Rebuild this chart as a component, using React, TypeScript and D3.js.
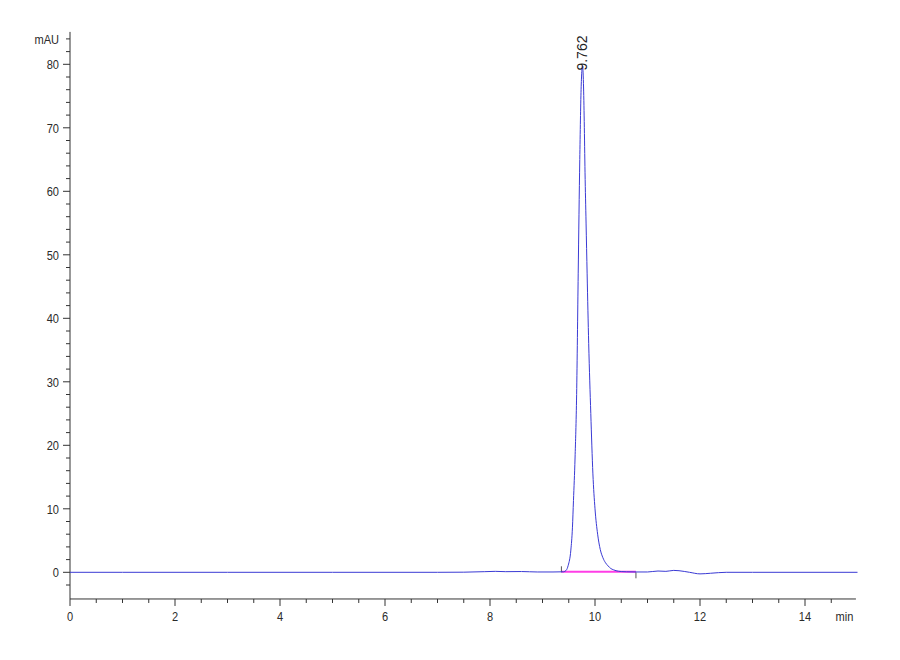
import React from "react";
import * as d3 from "d3";

// Chromatogram trace: retention time (min) and absorbance (mAU)
const times: number[] = [
  0, 1, 2, 3, 4, 5, 6, 7, 7.5, 7.9, 8.1, 8.3, 8.6, 8.9, 9.2, 9.4, 9.45, 9.49, 9.54, 9.57,
  9.59, 9.62, 9.65, 9.68, 9.71, 9.735, 9.762, 9.78, 9.795, 9.81, 9.83, 9.85, 9.88, 9.92,
  9.96, 10.0, 10.05, 10.1, 10.15, 10.2, 10.25, 10.3, 10.35, 10.4, 10.5, 10.6, 10.8, 11.0,
  11.2, 11.35, 11.5, 11.6, 11.8, 12.0, 12.2, 12.5, 13, 14, 15,
];
const signal: number[] = [
  0, 0, 0, 0, 0, 0, 0, 0, 0.02, 0.1, 0.15, 0.1, 0.12, 0.05, 0.05, 0.08, 0.3, 1.1, 3.5, 7,
  11.3, 18, 28, 47, 65, 76, 79.8, 77, 71, 63, 55, 47, 36, 25, 15.5, 10, 6, 3.6, 2.3, 1.5,
  1.0, 0.6, 0.4, 0.25, 0.12, 0.08, 0.05, 0.05, 0.2, 0.15, 0.3, 0.25, 0.0, -0.25, -0.15, 0,
  0, 0, 0,
];

const peakLabels: string[] = ["9.762"];
const peakTimes: number[] = [9.762];
const peakHeights: number[] = [79.8];
const integStart: number[] = [9.36];
const integEnd: number[] = [10.78];

const xMajorTicks: number[] = [0, 2, 4, 6, 8, 10, 12, 14];
const yMajorTicks: number[] = [0, 10, 20, 30, 40, 50, 60, 70, 80];
const xUnit = "min";
const yUnit = "mAU";

const W = 900;
const H = 660;

function CText({
  x,
  y,
  anchor,
  children,
  size = 13.5,
}: {
  x: number;
  y: number;
  anchor: "start" | "middle" | "end";
  children: React.ReactNode;
  size?: number;
}) {
  return (
    <g transform={`translate(${x},${y}) scale(0.82,1)`}>
      <text
        x={0}
        y={0}
        textAnchor={anchor}
        fontSize={size}
        fontFamily="'Liberation Sans', Arial, sans-serif"
        fill="#2a2a2a"
      >
        {children}
      </text>
    </g>
  );
}

export default function App() {
  const x = d3.scaleLinear().domain([0, 15]).range([70, 857.5]);
  const y = d3.scaleLinear().domain([0, 80]).range([572.3, 64.3]);

  const xMin = 0;
  const xMax = 14.97;
  const yMin = -4.2;
  const yMax = 85.1;

  const xMinor = d3.range(0, 15, 0.5).filter((v) => !xMajorTicks.includes(v));
  const yMinor = d3.range(-2, 85, 2).filter((v) => !yMajorTicks.includes(v));

  const pts: [number, number][] = times.map((t, i) => [t, signal[i]]);
  const line = d3
    .line<[number, number]>()
    .x((d) => x(d[0]))
    .y((d) => y(d[1]))
    .curve(d3.curveMonotoneX);

  const axisColor = "#333";
  const x0 = x(xMin);
  const yAxisY = y(yMin);

  return (
    <svg
      width={W}
      height={H}
      style={{ position: "absolute", left: 0, top: 0, background: "#fff" }}
    >
      <rect x={0} y={0} width={W} height={H} fill="#fff" />
      {/* Y axis */}
      <line x1={x0} x2={x0} y1={y(yMax)} y2={yAxisY} stroke={axisColor} strokeWidth={1} />
      {yMajorTicks.map((v) => (
        <g key={"ym" + v}>
          <line x1={x0 - 7} x2={x0} y1={y(v)} y2={y(v)} stroke={axisColor} />
          <CText x={x0 - 11} y={y(v) + 5} anchor="end">
            {v}
          </CText>
        </g>
      ))}
      {yMinor.map((v) => (
        <line key={"yn" + v} x1={x0 - 4} x2={x0} y1={y(v)} y2={y(v)} stroke={axisColor} />
      ))}
      <CText x={x0 - 11} y={y(84) + 5} anchor="end">
        {yUnit}
      </CText>

      {/* X axis */}
      <line x1={x0} x2={x(xMax)} y1={yAxisY} y2={yAxisY} stroke={axisColor} strokeWidth={1} />
      {xMajorTicks.map((v) => (
        <g key={"xm" + v}>
          <line x1={x(v)} x2={x(v)} y1={yAxisY} y2={yAxisY + 7} stroke={axisColor} />
          <CText x={x(v)} y={yAxisY + 22} anchor="middle">
            {v}
          </CText>
        </g>
      ))}
      {xMinor.map((v) => (
        <line key={"xn" + v} x1={x(v)} x2={x(v)} y1={yAxisY} y2={yAxisY + 4} stroke={axisColor} />
      ))}
      <CText x={x(14.75)} y={yAxisY + 22} anchor="middle">
        {xUnit}
      </CText>

      {/* integration baseline */}
      {integStart.map((s, i) => (
        <g key={"int" + i}>
          <line
            x1={x(s)}
            x2={x(integEnd[i])}
            y1={y(0) - 0.5}
            y2={y(0) - 0.5}
            stroke="#ff3ee6"
            strokeWidth={2}
          />
          <line x1={x(s)} x2={x(s)} y1={y(0)} y2={y(0) - 6} stroke="#555" />
          <line x1={x(integEnd[i])} x2={x(integEnd[i])} y1={y(0)} y2={y(0) + 6} stroke="#555" />
        </g>
      ))}

      {/* trace */}
      <path d={line(pts) || ""} fill="none" stroke="#3a3ad4" strokeWidth={1} />

      {/* peak labels */}
      {peakLabels.map((lab, i) => (
        <text
          key={"pl" + i}
          transform={`translate(${x(peakTimes[i]) + 4.5},${y(peakHeights[i]) + 5}) rotate(-90)`}
          fontSize={14}
          fontFamily="'Liberation Sans', Arial, sans-serif"
          fill="#222"
          textAnchor="start"
        >
          {lab}
        </text>
      ))}
    </svg>
  );
}
